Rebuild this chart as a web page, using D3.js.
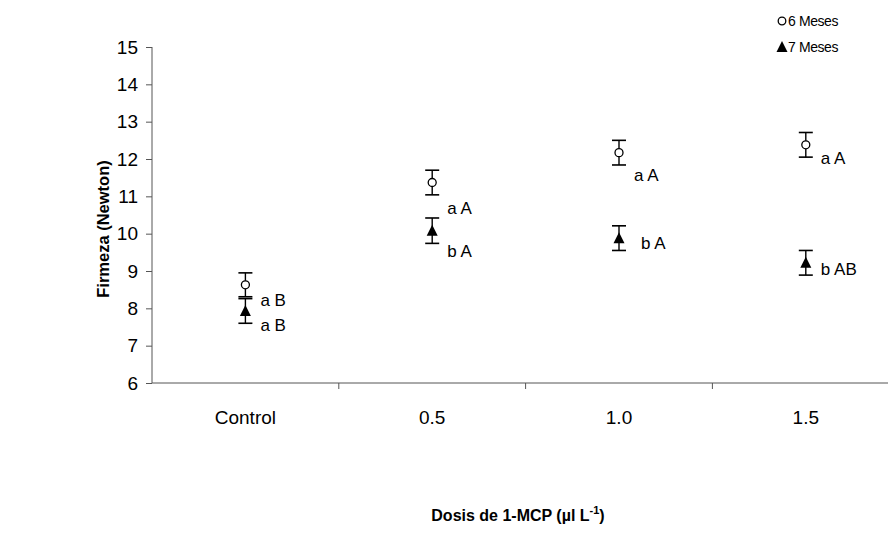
<!DOCTYPE html>
<html>
<head>
<meta charset="utf-8">
<script src="https://cdn.jsdelivr.net/npm/d3@7"></script>
<style>
  html, body { margin: 0; padding: 0; background: #fff; }
  svg { display: block; font-family: "Liberation Sans", Arial, sans-serif; }
</style>
</head>
<body>
<svg id="chart" width="888" height="552"></svg>
<script>
// Firmness by 1-MCP dose, two storage times
const categories = ["Control", "0.5", "1.0", "1.5"];
const seriesNames = ["6 Meses", "7 Meses"];
const meses6 = [8.63, 11.37, 12.17, 12.38];
const meses6Err = [0.32, 0.33, 0.33, 0.33];
const meses7 = [7.93, 10.08, 9.88, 9.22];
const meses7Err = [0.33, 0.34, 0.33, 0.33];
const letras6 = ["a B", "a A", "a A", "a A"];
const letras7 = ["a B", "b A", "b A", "b AB"];
const yTicks = [6, 7, 8, 9, 10, 11, 12, 13, 14, 15];

// pixel offsets of the letter labels from their points
const offsets6 = [[15, 15], [15, 26], [15, 22], [15, 13]];
const offsets7 = [[15, 14], [15, 20], [22, 5], [15, 6]];

const svg = d3.select("#chart");
const plotLeft = 152, plotTop = 47, plotBottom = 383;
const bandW = 186.8;

const x = d3.scaleBand().domain(categories).range([plotLeft, plotLeft + bandW * 4]).padding(0);
const y = d3.scaleLinear().domain([6, 15]).range([plotBottom, plotTop]);
const cx = c => x(c) + x.bandwidth() / 2;

// y axis
const yAxis = svg.append("g").attr("transform", `translate(${plotLeft},0)`)
  .call(d3.axisLeft(y).tickValues(yTicks).tickSize(6).tickPadding(8).tickFormat(d3.format("d")));
yAxis.select(".domain").attr("stroke", "#555").attr("d", `M0,${plotTop}V${plotBottom}`);
yAxis.selectAll(".tick line").attr("stroke", "#555");
yAxis.selectAll(".tick text").attr("font-size", 19).attr("fill", "#000")
  .attr("font-family", "Liberation Sans, Arial, sans-serif");

// x axis: ticks sit on category boundaries
const xAxisG = svg.append("g").attr("transform", `translate(0,${plotBottom})`);
xAxisG.append("line").attr("x1", plotLeft).attr("x2", plotLeft + bandW * 4)
  .attr("stroke", "#555");
xAxisG.selectAll("line.bt").data(categories.slice(1))
  .join("line").attr("class", "bt")
  .attr("x1", d => x(d)).attr("x2", d => x(d)).attr("y1", 0).attr("y2", 6)
  .attr("stroke", "#555");
xAxisG.selectAll("text").data(categories).join("text")
  .attr("x", d => cx(d)).attr("y", 41)
  .attr("text-anchor", "middle").attr("font-size", 19).attr("fill", "#000")
  .text(d => d);

// error bars + markers
function drawSeries(vals, errs, letters, offs, marker) {
  const g = svg.append("g");
  const rows = categories.map((c, i) => ({ c, v: vals[i], e: errs[i], l: letters[i], o: offs[i] }));
  const eb = g.selectAll("g.eb").data(rows).join("g").attr("class", "eb");
  eb.append("line").attr("x1", d => cx(d.c)).attr("x2", d => cx(d.c))
    .attr("y1", d => y(d.v + d.e)).attr("y2", d => y(d.v - d.e))
    .attr("stroke", "#000").attr("stroke-width", 1.4);
  [1, -1].forEach(s => {
    eb.append("line").attr("x1", d => cx(d.c) - 7).attr("x2", d => cx(d.c) + 7)
      .attr("y1", d => y(d.v + s * d.e)).attr("y2", d => y(d.v + s * d.e))
      .attr("stroke", "#000").attr("stroke-width", 1.6);
  });
  if (marker === "circle") {
    eb.append("circle").attr("cx", d => cx(d.c)).attr("cy", d => y(d.v)).attr("r", 4)
      .attr("fill", "#fff").attr("stroke", "#000").attr("stroke-width", 1.3);
  } else {
    eb.append("path").attr("transform", d => `translate(${cx(d.c)},${y(d.v)})`)
      .attr("d", "M0,-6L5.5,5L-5.5,5Z").attr("fill", "#000");
  }
  eb.append("text").attr("x", d => cx(d.c) + d.o[0]).attr("y", d => y(d.v) + d.o[1])
    .attr("dy", "0.35em").attr("font-size", 17).attr("fill", "#000").text(d => d.l);
}
drawSeries(meses6, meses6Err, letras6, offsets6, "circle");
drawSeries(meses7, meses7Err, letras7, offsets7, "triangle");

// legend
const leg = svg.append("g");
leg.append("circle").attr("cx", 782).attr("cy", 21).attr("r", 3.8)
  .attr("fill", "#fff").attr("stroke", "#000").attr("stroke-width", 1.3);
leg.append("text").attr("x", 788).attr("y", 21).attr("dy", "0.35em")
  .attr("font-size", 14).attr("letter-spacing", -0.4).text(seriesNames[0]);
leg.append("path").attr("transform", "translate(782,47)")
  .attr("d", "M0,-6L5.5,5L-5.5,5Z").attr("fill", "#000");
leg.append("text").attr("x", 788).attr("y", 47).attr("dy", "0.35em")
  .attr("font-size", 14).attr("letter-spacing", -0.4).text(seriesNames[1]);

// axis titles
svg.append("text").attr("transform", "translate(109,229) rotate(-90)")
  .attr("text-anchor", "middle").attr("font-size", 16.5).attr("font-weight", "bold")
  .text("Firmeza (Newton)");
const xt = svg.append("text").attr("x", 518).attr("y", 521)
  .attr("text-anchor", "middle").attr("font-size", 16).attr("font-weight", "bold");
xt.append("tspan").text("Dosis de 1-MCP (µl L");
xt.append("tspan").attr("font-size", 11).attr("dy", -7).text("-1");
xt.append("tspan").attr("dy", 7).text(")");
</script>
</body>
</html>
